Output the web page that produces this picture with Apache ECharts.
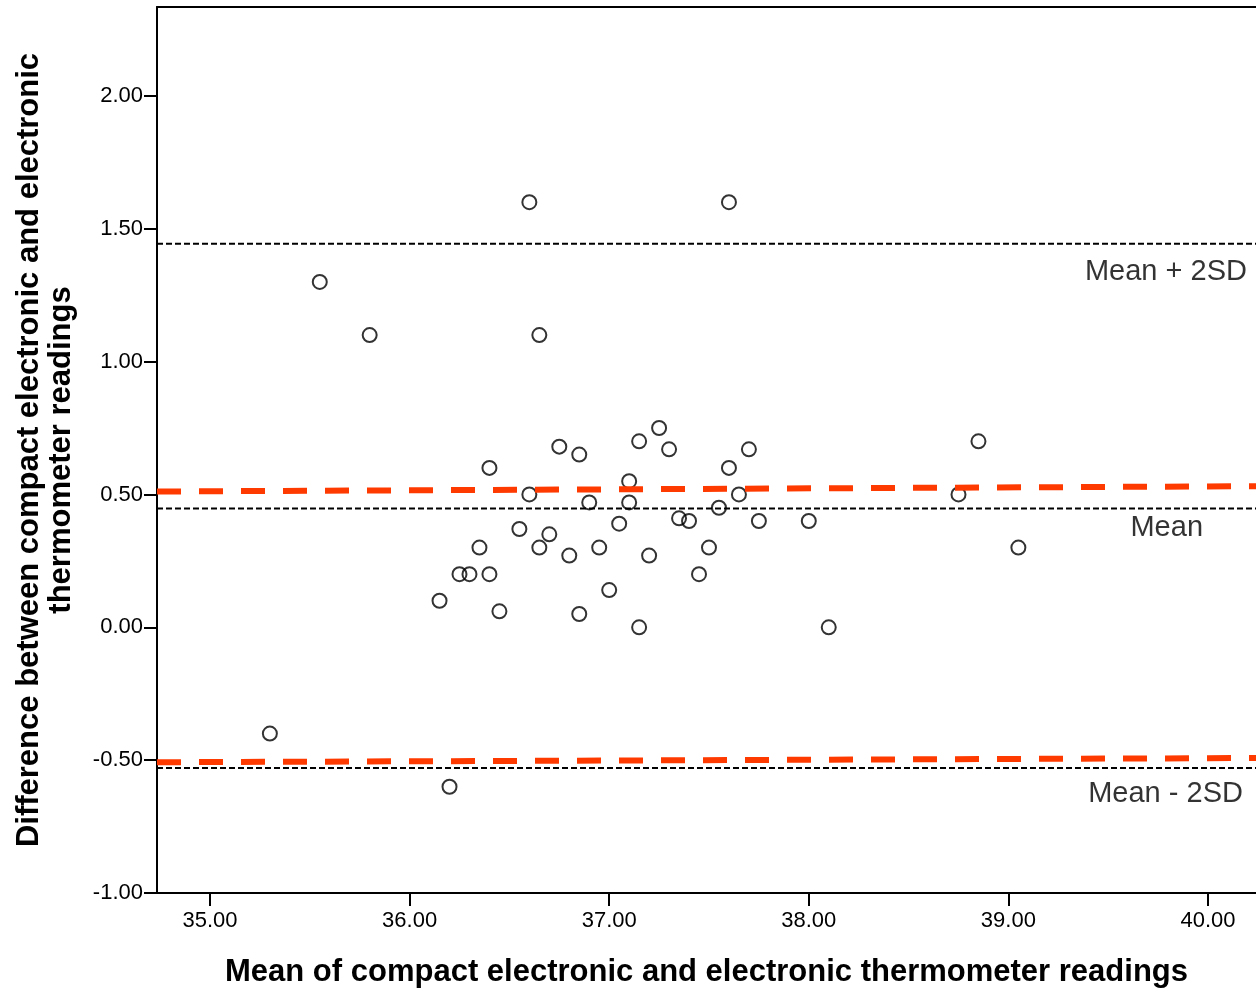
<!DOCTYPE html>
<html>
<head>
<meta charset="utf-8">
<script src="https://cdn.jsdelivr.net/npm/echarts@6/dist/echarts.min.js"></script>
<style>
  html, body { margin: 0; padding: 0; background: #fff; }
  #chart { width: 1256px; height: 993px; }
</style>
</head>
<body>
<div id="chart"></div>
<script>
// 数据点 (mean, difference)
var meanVals = [35.30, 35.55, 35.80, 36.20, 36.15, 36.25, 36.30, 36.35, 36.40, 36.40,
	36.45, 36.55, 36.60, 36.60, 36.65, 36.65, 36.70, 36.75, 36.80, 36.85,
	36.85, 36.90, 36.95, 37.00, 37.05, 37.10, 37.10, 37.15, 37.15, 37.20,
	37.25, 37.30, 37.35, 37.40, 37.45, 37.50, 37.55, 37.60, 37.60, 37.65,
	37.70, 37.75, 38.00, 38.10, 38.75, 38.85, 39.05];
var diffVals = [-0.40, 1.30, 1.10, -0.60, 0.10, 0.20, 0.20, 0.30, 0.60, 0.20,
	0.06, 0.37, 1.60, 0.50, 1.10, 0.30, 0.35, 0.68, 0.27, 0.65,
	0.05, 0.47, 0.30, 0.14, 0.39, 0.55, 0.47, 0.70, 0.00, 0.27,
	0.75, 0.67, 0.41, 0.40, 0.20, 0.30, 0.45, 1.60, 0.60, 0.50,
	0.67, 0.40, 0.40, 0.00, 0.50, 0.70, 0.30];

// 参考线
var meanDiff = 0.447;
var upperLimit = 1.444;
var lowerLimit = -0.53;
var upperFit = [0.511, 0.531]; // 红色虚线 左/右
var lowerFit = [-0.508, -0.492];

var xTicks = [35, 36, 37, 38, 39, 40];
var yTicks = [-1, -0.5, 0, 0.5, 1, 1.5, 2];
var xMin = 34.7345, xMax = 40.2405;
var yMin = -1, yMax = 2.3346;

// 文字标注
var refLabels = [
	{ text: 'Mean + 2SD', pos: [40.195, 1.338] },
	{ text: 'Mean', pos: [39.975, 0.372] },
	{ text: 'Mean - 2SD', pos: [40.175, -0.628] }
];

var myChart = echarts.init(document.getElementById('chart'));

var points = meanVals.map(function (x, i) { return [x, diffVals[i]]; });

function hLine(v) { return [[xMin, v], [xMax, v]]; }

var font = "'Liberation Sans', Arial, sans-serif";

var option = {
	animation: false,
	backgroundColor: '#fff',
	grid: {
		left: 157,
		right: 0,
		top: 7,
		bottom: 99
	},
	xAxis: [{
		type: 'value',
		min: xMin,
		max: xMax,
		name: 'Mean of compact electronic and electronic thermometer readings',
		nameLocation: 'middle',
		nameGap: 64,
		nameTextStyle: { fontFamily: font, fontWeight: 'bold', fontSize: 31, color: '#000' },
		axisLine: { onZero: false, lineStyle: { color: '#000', width: 2 } },
		axisTick: { show: true, length: 13, lineStyle: { color: '#000', width: 2 }, customValues: xTicks },
		axisLabel: {
			color: '#000', fontFamily: font, fontSize: 22, margin: 17,
			customValues: xTicks,
			formatter: function (v) { return v.toFixed(2); }
		},
		splitLine: { show: false }
	}, {
		// 上边框
		type: 'value',
		position: 'top',
		min: xMin,
		max: xMax,
		axisLine: { onZero: false, lineStyle: { color: '#000', width: 2 } },
		axisTick: { show: false },
		axisLabel: { show: false },
		splitLine: { show: false }
	}],
	yAxis: {
		type: 'value',
		min: yMin,
		max: yMax,
		name: 'Difference between compact electronic and electronic\nthermometer readings',
		nameLocation: 'middle',
		nameGap: 80,
		nameTextStyle: { fontFamily: font, fontWeight: 'bold', fontSize: 31, color: '#000', lineHeight: 32 },
		axisLine: { onZero: false, lineStyle: { color: '#000', width: 2 } },
		axisTick: { show: true, length: 13, lineStyle: { color: '#000', width: 2 }, customValues: yTicks },
		axisLabel: {
			color: '#000', fontFamily: font, fontSize: 22, margin: 14,
			customValues: yTicks,
			formatter: function (v) { return v.toFixed(2); }
		},
		splitLine: { show: false }
	},
	series: [
		{
			type: 'scatter',
			data: points,
			symbol: 'circle',
			symbolSize: 14,
			itemStyle: { color: 'rgba(0,0,0,0)', borderColor: '#000', borderWidth: 2 }
		},
		{
			type: 'line', data: hLine(upperLimit), symbol: 'none',
			lineStyle: { color: '#000', width: 2, type: [6, 3] }
		},
		{
			type: 'line', data: hLine(meanDiff), symbol: 'none',
			lineStyle: { color: '#000', width: 2, type: [6, 3] }
		},
		{
			type: 'line', data: hLine(lowerLimit), symbol: 'none',
			lineStyle: { color: '#000', width: 2, type: [6, 3] }
		},
		{
			type: 'line', data: [[xMin, upperFit[0]], [xMax, upperFit[1]]], symbol: 'none',
			lineStyle: { color: '#ff3a00', width: 6, type: [24, 18] }
		},
		{
			type: 'line', data: [[xMin, lowerFit[0]], [xMax, lowerFit[1]]], symbol: 'none',
			lineStyle: { color: '#ff3a00', width: 6, type: [24, 18] }
		},
		{
			type: 'scatter',
			symbolSize: 0,
			silent: true,
			data: refLabels.map(function (d) {
				return { value: d.pos, label: { formatter: d.text } };
			}),
			label: {
				show: true, position: 'inside', align: 'right', verticalAlign: 'middle',
				color: '#000', fontFamily: font, fontSize: 29
			}
		}
	]
};

myChart.setOption(option);
</script>
</body>
</html>
